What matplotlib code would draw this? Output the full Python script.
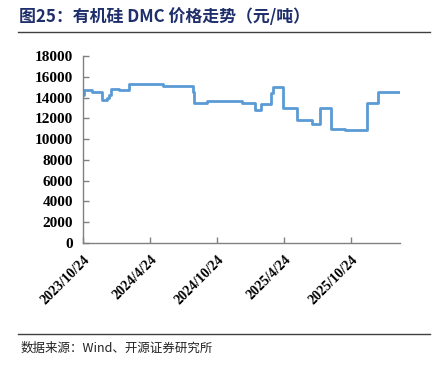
import matplotlib
matplotlib.use("Agg")
import matplotlib.pyplot as plt
import pandas as pd

dates = ['2023-10-24', '2023-10-26', '2023-11-17', '2023-12-14', '2023-12-28', '2024-01-02',
         '2024-01-08', '2024-01-31', '2024-02-27', '2024-05-28', '2024-08-20', '2024-08-23',
         '2024-09-26', '2024-12-30', '2025-02-04', '2025-02-20', '2025-03-19', '2025-03-26',
         '2025-04-21', '2025-05-29', '2025-07-09', '2025-08-02', '2025-09-01', '2025-10-08',
         '2025-12-07', '2026-01-07', '2026-03-07']
prices = [14200, 14700, 14500, 13800, 14000, 14200,
          14800, 14700, 15300, 15100, 14500, 13500,
          13700, 13500, 12800, 13400, 14400, 15000,
          13000, 11800, 11500, 13000, 11000, 10900,
          13500, 14500, 14500]
tick_dates = ['2023-10-24', '2024-04-24', '2024-10-24', '2025-04-24', '2025-10-24']
tick_labels = ['2023/10/24', '2024/4/24', '2024/10/24', '2025/4/24', '2025/10/24']
y_ticks = [0, 2000, 4000, 6000, 8000, 10000, 12000, 14000, 16000, 18000]

title = '图25：有机硅 DMC 价格走势（元/吨）'
source = '数据来源：Wind、开源证券研究所'

x = pd.to_datetime(dates)

fig = plt.figure(figsize=(4.47, 3.66), dpi=100)
ax = fig.add_axes([0.1857, 0.336, 0.709, 0.511])
ax.plot(x, prices, drawstyle='steps-post', color='#5B9BD5', lw=2.0)

ax.set_ylim(0, 18000)
ax.set_yticks(y_ticks)
ax.set_xlim(pd.Timestamp('2023-10-24'), pd.Timestamp('2026-03-07'))
ax.set_xticks(pd.to_datetime(tick_dates))
ax.set_xticklabels(tick_labels)

for s in ['top', 'right']:
    ax.spines[s].set_visible(False)
for s in ['left', 'bottom']:
    ax.spines[s].set_color('#808080')
    ax.spines[s].set_linewidth(1.0)
ax.tick_params(axis='both', direction='in', length=4, color='#808080', width=1)
ax.tick_params(axis='y', pad=7)
ax.tick_params(axis='x', pad=7)
for lab in ax.get_yticklabels():
    lab.set_fontfamily('Liberation Serif')
    lab.set_fontweight('bold')
    lab.set_fontsize(11)
for lab in ax.get_xticklabels():
    lab.set_fontfamily('Liberation Serif')
    lab.set_fontweight('bold')
    lab.set_fontsize(10)
    lab.set_rotation(45)
    lab.set_ha('right')
    lab.set_rotation_mode('anchor')

fig.text(0.043, 0.953, title, fontsize=12.2, fontweight='bold', color='#1F2F6B',
         family=['Noto Sans CJK SC', 'DejaVu Sans'], va='center', ha='left')
fig.add_artist(plt.Line2D([0.04, 0.962], [0.912, 0.912], color='#404040', lw=1.0))
fig.add_artist(plt.Line2D([0.04, 0.962], [0.087, 0.087], color='#404040', lw=1.0))
fig.text(0.045, 0.048, source, fontsize=9, color='#222222',
         family=['Noto Sans CJK SC', 'DejaVu Sans'], va='center', ha='left')

fig.savefig('out.png', dpi=100)
